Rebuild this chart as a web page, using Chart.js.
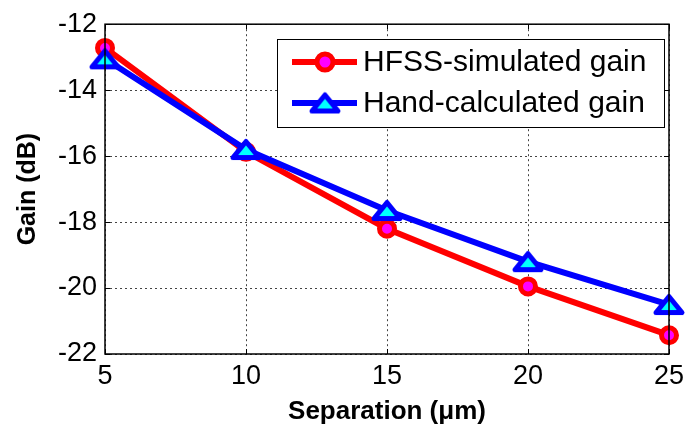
<!DOCTYPE html>
<html>
<head>
<meta charset="utf-8">
<script src="https://cdn.jsdelivr.net/npm/chart.js@4.4.0/dist/chart.umd.min.js"></script>
<style>
  html, body { margin: 0; padding: 0; background: #fff; }
  #gainChart { display: block; }
</style>
</head>
<body>
<canvas id="gainChart" width="691" height="432"></canvas>
<script>
const separation = [5, 10, 15, 20, 25];
const hfssGain = [-12.72, -15.87, -18.2, -19.95, -21.43];
const handGain = [-13.05, -15.8, -17.65, -19.2, -20.5];
const seriesNames = ['HFSS-simulated gain', 'Hand-calculated gain'];
const xTicks = [5, 10, 15, 20, 25];
const yTicks = [-22, -20, -18, -16, -14, -12];

const FONT = "'Liberation Sans', Arial, sans-serif";

// flattened triangle marker (matlab '^' looks wider than tall here)
function makeTriangle() {
    const c = document.createElement('canvas');
    c.width = 34; c.height = 25;
    const g = c.getContext('2d');
    g.beginPath();
    g.moveTo(17, 4.5);
    g.lineTo(30, 20.5);
    g.lineTo(4, 20.5);
    g.closePath();
    g.fillStyle = '#00ffff';
    g.fill();
    g.lineWidth = 5;
    g.lineJoin = 'round';
    g.strokeStyle = '#0000ff';
    g.stroke();
    return c;
}
const triangle = makeTriangle();

// box, inward ticks, legend
const framePlugin = {
    id: 'frame',
    afterDraw(chart) {
        const ctx = chart.ctx;
        const a = chart.chartArea;
        const xs = chart.scales.x, ys = chart.scales.y;
        ctx.save();
        ctx.strokeStyle = '#000';
        ctx.lineWidth = 1.5;
        ctx.strokeRect(a.left, a.top, a.right - a.left, a.bottom - a.top);
        ctx.lineWidth = 1;
        ctx.beginPath();
        xTicks.forEach(v => {
            const px = Math.round(xs.getPixelForValue(v)) + 0.5;
            ctx.moveTo(px, a.bottom); ctx.lineTo(px, a.bottom - 5);
            ctx.moveTo(px, a.top); ctx.lineTo(px, a.top + 5);
        });
        yTicks.forEach(v => {
            const py = Math.round(ys.getPixelForValue(v)) + 0.5;
            ctx.moveTo(a.left, py); ctx.lineTo(a.left + 5, py);
            ctx.moveTo(a.right, py); ctx.lineTo(a.right - 5, py);
        });
        ctx.stroke();

        // legend
        const lx = 277, ly = 39, lw = 387, lh = 88;
        ctx.fillStyle = '#fff';
        ctx.fillRect(lx, ly, lw, lh);
        ctx.strokeStyle = '#000';
        ctx.lineWidth = 1;
        ctx.strokeRect(lx + 0.5, ly + 0.5, lw, lh);

        const rows = [
            { y: 62, color: '#ff0000', marker: 'circle' },
            { y: 103, color: '#0000ff', marker: 'triangle' }
        ];
        rows.forEach((r, i) => {
            ctx.strokeStyle = r.color;
            ctx.lineWidth = 6;
            ctx.beginPath();
            ctx.moveTo(292, r.y); ctx.lineTo(357, r.y);
            ctx.stroke();
            if (r.marker === 'circle') {
                ctx.beginPath();
                ctx.arc(325, r.y, 8, 0, Math.PI * 2);
                ctx.fillStyle = '#ff00ff';
                ctx.fill();
                ctx.lineWidth = 5;
                ctx.strokeStyle = '#ff0000';
                ctx.stroke();
            } else {
                ctx.drawImage(triangle, 325 - triangle.width / 2, r.y - triangle.height / 2);
            }
            ctx.fillStyle = '#000';
            ctx.font = '30px ' + FONT;
            ctx.textBaseline = 'middle';
            ctx.textAlign = 'left';
            ctx.fillText(seriesNames[i], 363, r.y + 1);
        });
        ctx.restore();
    }
};

new Chart(document.getElementById('gainChart'), {
    type: 'line',
    data: {
        datasets: [
            {
                label: seriesNames[0],
                data: separation.map((x, i) => ({ x, y: hfssGain[i] })),
                borderColor: '#ff0000',
                borderWidth: 6,
                pointStyle: 'circle',
                pointRadius: 7.5,
                pointBorderWidth: 5,
                pointBackgroundColor: '#ff00ff',
                pointBorderColor: '#ff0000',
                tension: 0,
                clip: false,
                order: 1
            },
            {
                label: seriesNames[1],
                data: separation.map((x, i) => ({ x, y: handGain[i] })),
                borderColor: '#0000ff',
                borderWidth: 6,
                pointStyle: triangle,
                pointRadius: 12,
                tension: 0,
                clip: false,
                order: 0
            }
        ]
    },
    options: {
        responsive: false,
        devicePixelRatio: 1,
        animation: false,
        events: [],
        layout: { padding: { top: 15, right: 22, left: 0, bottom: 0 } },
        plugins: {
            legend: { display: false },
            tooltip: { enabled: false }
        },
        scales: {
            x: {
                type: 'linear',
                min: 5,
                max: 25,
                afterFit: s => { s.height = 78; },
                afterBuildTicks: s => { s.ticks = xTicks.map(v => ({ value: v })); },
                ticks: {
                    color: '#000',
                    font: { family: FONT, size: 27 },
                    padding: 6,
                    maxRotation: 0
                },
                grid: {
                    color: '#444',
                    lineWidth: 1,
                    drawTicks: false
                },
                border: { display: false, dash: [2, 3] },
                title: {
                    display: true,
                    text: 'Separation (μm)',
                    color: '#000',
                    font: { family: FONT, size: 26, weight: 'bold' },
                    padding: { top: 0, bottom: 5 }
                }
            },
            y: {
                min: -22,
                max: -12,
                afterFit: s => { s.width = 105; },
                afterBuildTicks: s => { s.ticks = yTicks.map(v => ({ value: v })); },
                ticks: {
                    color: '#000',
                    font: { family: FONT, size: 27 },
                    padding: 8
                },
                grid: {
                    color: '#444',
                    lineWidth: 1,
                    drawTicks: false
                },
                border: { display: false, dash: [2, 3] },
                title: {
                    display: true,
                    text: 'Gain (dB)',
                    color: '#000',
                    font: { family: FONT, size: 25, weight: 'bold' },
                    padding: { top: 13, bottom: 0 }
                }
            }
        }
    },
    plugins: [framePlugin]
});
</script>
</body>
</html>
